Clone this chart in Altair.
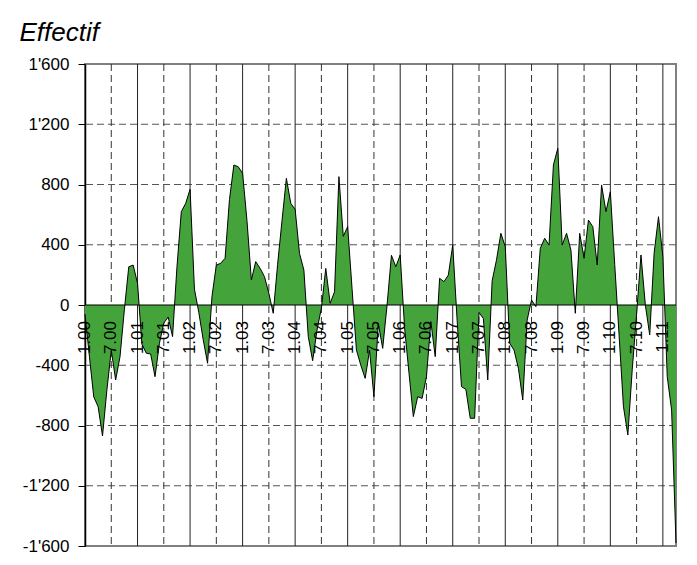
import altair as alt
import pandas as pd

# Monthly values, Jan 2000 (month 0) .. Apr 2011 (month 135)
MONTHS = list(range(136))
VALUES = [
    -60, -340, -610, -675, -870, -565, -300, -498, -343, -30, 254, 265,
    144, -260, -320, -325, -476, -254, -120, -80, -210, 250, 620, 675,
    768, 105, -50, -230, -387, 55, 265, 277, 310, 700, 929, 918,
    874, 560, 166, 288, 243, 188, 77, -55, 270, 560, 841, 675,
    635, 343, 232, -210, -370, -166, -20, 243, 11, 88, 852, 456,
    520, 110, -299, -400, -487, -300, -609, -122, -288, 0, 330, 254,
    332, -150, -450, -741, -609, -620, -476, -110, -343, 177, 155, 199,
    398, -100, -542, -560, -752, -752, -50, -90, -498, 160, 300, 476,
    387, -254, -299, -420, -631, -100, 33, -11, 376, 443, 398, 929,
    1040, 398, 476, 365, -55, 476, 310, 564, 520, 266, 797, 620,
    752, 270, -200, -675, -863, -430, -60, 332, 0, -199, 343, 586,
    321, -476, -697, -1580,
]

TICK_MONTHS = list(range(0, 133, 6))
TICK_LABELS = [
    "1.00", "7.00", "1.01", "7.01", "1.02", "7.02", "1.03", "7.03",
    "1.04", "7.04", "1.05", "7.05", "1.06", "7.06", "1.07", "7.07",
    "1.08", "7.08", "1.09", "7.09", "1.10", "7.10", "1.11",
]
JAN_MONTHS = list(range(12, 133, 12))
JUL_MONTHS = list(range(6, 133, 12))
Y_TICKS = [-1600, -1200, -800, -400, 0, 400, 800, 1200, 1600]
Y_GRID = [-1200, -800, -400, 400, 800, 1200]

df = pd.DataFrame({"m": MONTHS, "v": VALUES})
df_lab = pd.DataFrame({"m": TICK_MONTHS, "label": TICK_LABELS, "v": [0] * len(TICK_MONTHS)})
df_jan = pd.DataFrame({"m": JAN_MONTHS})
df_jul = pd.DataFrame({"m": JUL_MONTHS})
df_hgrid = pd.DataFrame({"v": Y_GRID})
df_zero = pd.DataFrame({"v": [0]})

FONT = "Liberation Sans"
xs = alt.Scale(domain=[0, 135], nice=False, zero=False)
ys = alt.Scale(domain=[-1600, 1600], nice=False)

y_axis = alt.Axis(
    values=Y_TICKS,
    labelExpr="(datum.value < 0 ? '-' : '') + replace(format(abs(datum.value), ','), ',', \"'\")",
    labelFont=FONT, labelFontSize=17, labelColor="black", labelPadding=9,
    tickColor="black", tickSize=7, tickWidth=1,
    domainColor="black", domainWidth=1.5,
    grid=False,
    title="Effectif", titleAngle=0, titleAlign="left", titleBaseline="alphabetic",
    titleX=-66, titleY=-24, titleFont=FONT, titleFontStyle="italic",
    titleFontWeight="normal", titleFontSize=26, titleColor="black",
)

x_enc = alt.X("m:Q", scale=xs, axis=None)
y_enc = alt.Y("v:Q", scale=ys, axis=y_axis)

hgrid = alt.Chart(df_hgrid).mark_rule(color="#555555", strokeWidth=1, strokeDash=[7, 4]).encode(y=y_enc)
jul = alt.Chart(df_jul).mark_rule(color="#333333", strokeWidth=1, strokeDash=[7, 4]).encode(x=x_enc)
jan = alt.Chart(df_jan).mark_rule(color="#222222", strokeWidth=1).encode(x=x_enc)
area = alt.Chart(df).mark_area(color="#45A33C", opacity=1).encode(x=x_enc, y=y_enc)
line = alt.Chart(df).mark_line(color="black", strokeWidth=1).encode(x=x_enc, y=y_enc)
zero = alt.Chart(df_zero).mark_rule(color="black", strokeWidth=1.2).encode(y=y_enc)
labels = alt.Chart(df_lab).mark_text(
    angle=270, align="right", baseline="middle", dx=-16,
    font=FONT, fontSize=17, color="black",
).encode(x=x_enc, y=y_enc, text="label:N")

chart = alt.layer(hgrid, jul, jan, area, line, zero, labels).properties(
    width=591, height=482,
    autosize="none",
    padding={"left": 77, "top": 56, "right": 13, "bottom": 11},
).configure_view(stroke="#808080", strokeWidth=2)

chart.save("out.html", embed_options={"renderer": "svg", "actions": False})
